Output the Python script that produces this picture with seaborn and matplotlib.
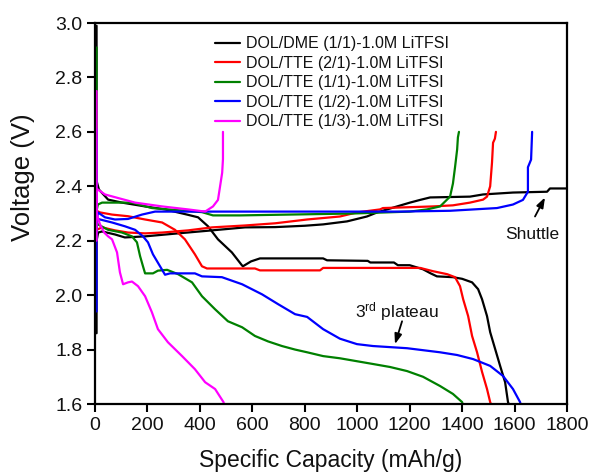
import numpy as np
import pandas as pd
import matplotlib
matplotlib.use("Agg")
import matplotlib.pyplot as plt
import seaborn as sns
from matplotlib.lines import Line2D

# ---------------- data ----------------
labels = ["DOL/DME (1/1)-1.0M LiTFSI", "DOL/TTE (2/1)-1.0M LiTFSI",
          "DOL/TTE (1/1)-1.0M LiTFSI", "DOL/TTE (1/2)-1.0M LiTFSI",
          "DOL/TTE (1/3)-1.0M LiTFSI"]
colors = ["#000000", "#ff0000", "#008000", "#0000ff", "#ff00ff"]

# DOL/DME (1/1)
dme_dis_x = [6, 6, 15, 50, 103, 191, 267, 351, 393, 431, 469, 522, 560, 564, 595, 629, 870, 885,
             1040, 1050, 1140, 1155, 1200, 1251, 1280, 1304, 1365, 1400, 1438, 1461, 1476, 1495,
             1507, 1526, 1545, 1564, 1575, 1578]
dme_dis_v = [2.99, 2.42, 2.388, 2.351, 2.34, 2.326, 2.315, 2.296, 2.286, 2.253, 2.205, 2.157, 2.11,
             2.106, 2.124, 2.135, 2.135, 2.128, 2.126, 2.12, 2.12, 2.11, 2.11, 2.095, 2.08, 2.069,
             2.066, 2.06, 2.047, 2.022, 1.985, 1.923, 1.864, 1.802, 1.74, 1.68, 1.607, 1.6]
dme_chg_x = [6, 6, 12, 27, 76, 114, 191, 317, 446, 572, 687, 800, 870, 961, 1037, 1076, 1152, 1201,
             1240, 1278, 1430, 1480, 1594, 1724, 1735, 1800]
dme_chg_v = [1.86, 2.20, 2.23, 2.234, 2.223, 2.212, 2.216, 2.227, 2.238, 2.249, 2.25, 2.255, 2.26,
             2.271, 2.289, 2.304, 2.326, 2.34, 2.35, 2.359, 2.362, 2.37, 2.377, 2.38, 2.392, 2.392]

# DOL/TTE (2/1)
t21_dis_x = [6, 6, 19, 65, 126, 191, 256, 305, 343, 381, 408, 427, 610, 629, 858, 870, 1240, 1289,
             1343, 1373, 1392, 1404, 1423, 1438, 1457, 1476, 1495, 1507, 1510]
t21_dis_v = [2.45, 2.31, 2.304, 2.296, 2.29, 2.278, 2.267, 2.24, 2.205, 2.15, 2.106, 2.098, 2.098,
             2.091, 2.091, 2.10, 2.10, 2.088, 2.077, 2.066, 2.033, 1.985, 1.923, 1.85, 1.79, 1.718,
             1.655, 1.607, 1.6]
t21_chg_x = [6, 6, 27, 76, 126, 191, 256, 355, 446, 572, 687, 809, 934, 999, 1087, 1098, 1289, 1365,
             1430, 1480, 1495, 1507, 1514, 1518, 1525, 1529]
t21_chg_v = [2.17, 2.24, 2.249, 2.238, 2.23, 2.227, 2.23, 2.238, 2.249, 2.256, 2.264, 2.278, 2.289,
             2.304, 2.315, 2.32, 2.326, 2.33, 2.34, 2.351, 2.362, 2.40, 2.487, 2.56, 2.575, 2.60]

# DOL/TTE (1/1)
t11_dis_x = [6, 6, 11, 50, 103, 141, 160, 172, 183, 191, 221, 240, 275, 317, 370, 408, 458, 507,
             561, 610, 660, 713, 763, 809, 870, 934, 1060, 1125, 1190, 1251, 1316, 1365, 1400, 1402]
t11_dis_v = [2.91, 2.27, 2.26, 2.24, 2.23, 2.216, 2.194, 2.143, 2.106, 2.08, 2.08, 2.09, 2.093,
             2.077, 2.047, 1.996, 1.948, 1.904, 1.882, 1.85, 1.83, 1.813, 1.80, 1.79, 1.776, 1.768,
             1.747, 1.736, 1.721, 1.70, 1.666, 1.637, 1.607, 1.6]
t11_chg_x = [6, 6, 11, 27, 141, 217, 408, 450, 553, 984, 1201, 1266, 1316, 1354, 1365, 1373, 1381,
             1384, 1388]
t11_chg_v = [2.20, 2.31, 2.333, 2.34, 2.34, 2.32, 2.305, 2.293, 2.293, 2.30, 2.307, 2.315, 2.326,
             2.362, 2.41, 2.47, 2.535, 2.58, 2.60]

# DOL/TTE (1/2)
t12_dis_x = [6, 6, 11, 65, 114, 153, 183, 202, 221, 248, 267, 286, 381, 408, 484, 561, 637, 698,
             763, 809, 870, 934, 999, 1060, 1190, 1316, 1381, 1442, 1507, 1556, 1594, 1621, 1623]
t12_dis_v = [2.61, 2.27, 2.28, 2.267, 2.253, 2.24, 2.216, 2.194, 2.15, 2.106, 2.075, 2.08, 2.08,
             2.069, 2.066, 2.04, 2.003, 1.967, 1.93, 1.92, 1.875, 1.84, 1.82, 1.813, 1.805, 1.79,
             1.78, 1.765, 1.74, 1.703, 1.655, 1.607, 1.6]
t12_chg_x = [6, 6, 11, 38, 76, 126, 179, 229, 1163, 1354, 1533, 1594, 1632, 1651, 1651, 1663, 1667]
t12_chg_v = [1.94, 2.26, 2.304, 2.286, 2.278, 2.28, 2.296, 2.307, 2.307, 2.31, 2.32, 2.333, 2.35,
             2.38, 2.47, 2.498, 2.60]

# DOL/TTE (1/3)
t13_dis_x = [6, 6, 19, 35, 50, 65, 84, 95, 107, 126, 141, 164, 191, 217, 240, 278, 332, 381, 420,
             458, 490, 492]
t13_dis_v = [2.75, 2.30, 2.26, 2.23, 2.216, 2.205, 2.157, 2.084, 2.04, 2.047, 2.05, 2.033, 1.996,
             1.937, 1.875, 1.827, 1.776, 1.728, 1.68, 1.655, 1.607, 1.6]
t13_chg_x = [6, 6, 8, 38, 76, 153, 256, 355, 420, 450, 469, 477, 485, 488, 488]
t13_chg_v = [2.20, 2.37, 2.39, 2.37, 2.36, 2.34, 2.326, 2.315, 2.307, 2.326, 2.35, 2.40, 2.45,
             2.50, 2.60]

curves = [
    (labels[0], dme_dis_x, dme_dis_v, dme_chg_x, dme_chg_v),
    (labels[1], t21_dis_x, t21_dis_v, t21_chg_x, t21_chg_v),
    (labels[2], t11_dis_x, t11_dis_v, t11_chg_x, t11_chg_v),
    (labels[3], t12_dis_x, t12_dis_v, t12_chg_x, t12_chg_v),
    (labels[4], t13_dis_x, t13_dis_v, t13_chg_x, t13_chg_v),
]

rows = []
for name, dx, dv, cx, cv in curves:
    for i, (x, v) in enumerate(zip(dx, dv)):
        rows.append((name, "discharge", i, x, v))
    for i, (x, v) in enumerate(zip(cx, cv)):
        rows.append((name, "charge", i, x, v))
df = pd.DataFrame(rows, columns=["electrolyte", "step", "order", "capacity", "voltage"])
df["unit"] = df["electrolyte"] + "|" + df["step"]

# ---------------- style ----------------
sns.set_theme(style="ticks")
plt.rcParams["font.family"] = ["Liberation Sans", "DejaVu Sans"]
plt.rcParams["mathtext.fontset"] = "custom"
plt.rcParams["mathtext.rm"] = "Liberation Sans"
plt.rcParams["mathtext.it"] = "Liberation Sans:italic"

fig = plt.figure(figsize=(5.93, 4.73), dpi=100)
ax = fig.add_axes([95 / 593, 1 - 404 / 473, 472 / 593, 381 / 473])

palette = dict(zip(labels, colors))
sns.lineplot(data=df, x="capacity", y="voltage", hue="electrolyte", units="unit",
             estimator=None, sort=False, palette=palette, hue_order=labels,
             linewidth=1.6, legend=False, ax=ax)

ax.set_xlim(0, 1800)
ax.set_ylim(1.6, 3.0)
ax.set_xticks(np.arange(0, 1801, 200))
ax.set_yticks(np.round(np.arange(1.6, 3.01, 0.2), 1))
ax.set_yticklabels([f"{v:.1f}" for v in np.arange(1.6, 3.01, 0.2)])

for s in ax.spines.values():
    s.set_visible(True)
    s.set_linewidth(1.6)
    s.set_color("black")
ax.tick_params(axis="both", which="major", direction="out", length=6, width=1.5,
               labelsize=14, color="black", labelcolor="#111111", pad=3)
ax.tick_params(top=False, right=False)

ax.set_xlabel("Specific Capacity (mAh/g)", fontsize=16.5, color="#111111")
ax.set_ylabel("Voltage (V)", fontsize=18.5, color="#111111")
ax.xaxis.set_label_coords(0.5, -0.118)
ax.yaxis.set_label_coords(-0.128, 0.596)

handles = [Line2D([0], [0], color=c, lw=1.6) for c in colors]
leg = ax.legend(handles, labels, loc="upper left", bbox_to_anchor=(0.254, 0.965),
                frameon=False, fontsize=11.5, handlelength=1.6, handletextpad=0.35,
                labelspacing=0.28, borderpad=0, borderaxespad=0)
for t in leg.get_texts():
    t.set_color("#111111")

# annotations
ax.annotate("", xy=(1716, 2.359), xytext=(1678, 2.289),
            arrowprops=dict(arrowstyle="-|>,head_length=0.5,head_width=0.18", color="black",
                            lw=1.3, shrinkA=0, shrinkB=0))
ax.text(1564, 2.208, "Shuttle", fontsize=12.5, ha="left", va="baseline", color="#111111")

ax.annotate("", xy=(1144, 1.82), xytext=(1171, 1.904),
            arrowprops=dict(arrowstyle="-|>,head_length=0.5,head_width=0.18", color="black",
                            lw=1.3, shrinkA=0, shrinkB=0))
ax.text(992, 1.919, r"3$^{\mathrm{rd}}$ plateau", fontsize=12.5, ha="left", va="baseline",
        color="#111111")

fig.savefig("out.png", dpi=100)
